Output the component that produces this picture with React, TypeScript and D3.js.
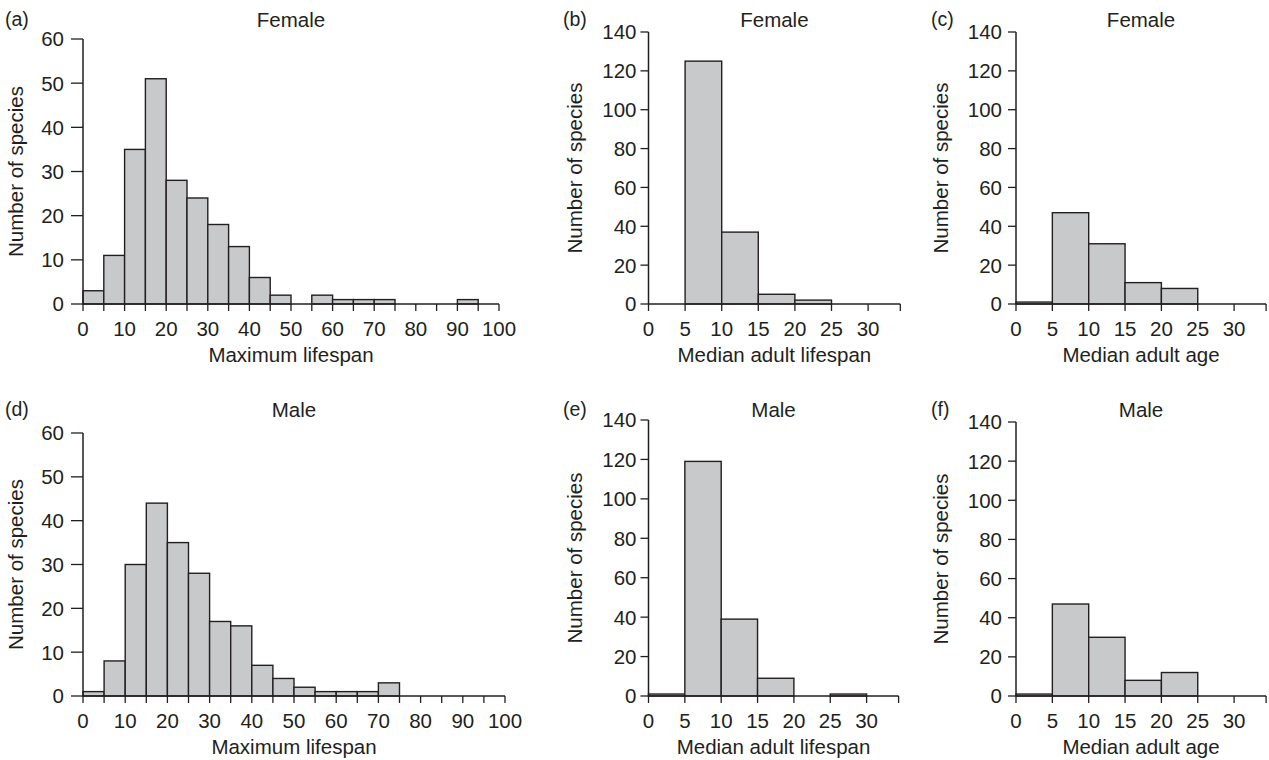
import React from "react";
import * as d3 from "d3";

// ---- data ----
const maxLifespanBinStarts = [0, 5, 10, 15, 20, 25, 30, 35, 40, 45, 50, 55, 60, 65, 70, 75, 80, 85, 90, 95];
const femaleMaxLifespan = [3, 11, 35, 51, 28, 24, 18, 13, 6, 2, 0, 2, 1, 1, 1, 0, 0, 0, 1, 0];
const maleMaxLifespan = [1, 8, 30, 44, 35, 28, 17, 16, 7, 4, 2, 1, 1, 1, 3, 0, 0, 0, 0, 0];

const medianBinStarts = [0, 5, 10, 15, 20, 25, 30];
const femaleMedianLifespan = [0, 125, 37, 5, 2, 0, 0];
const maleMedianLifespan = [1, 119, 39, 9, 0, 1, 0];
const femaleMedianAge = [1, 47, 31, 11, 8, 0, 0];
const maleMedianAge = [1, 47, 30, 8, 12, 0, 0];

const maxTickValues = [0, 10, 20, 30, 40, 50, 60, 70, 80, 90, 100];
const maxMinorTicks = [0, 5, 10, 15, 20, 25, 30, 35, 40, 45, 50, 55, 60, 65, 70, 75, 80, 85, 90, 95, 100];
const medianTickValues = [0, 5, 10, 15, 20, 25, 30];
const maxYTicks = [0, 10, 20, 30, 40, 50, 60];
const medianYTicks = [0, 20, 40, 60, 80, 100, 120, 140];

const INK = "#231f20";
const FILL = "#c8c9cb";
const FONT = "'Liberation Sans', Arial, Helvetica, sans-serif";
const FS = 20.5;

type PanelProps = {
  tag: string;
  title: string;
  xLabel: string;
  binStarts: number[];
  binWidth: number;
  counts: number[];
  xDomain: [number, number];
  xTickLabels: number[];
  xTicks: number[];
  yMax: number;
  yTicks: number[];
  left: number;
  right: number;
  top: number;
  bottom: number;
  yTickLen: number;
  yTickGap: number;
  tagX: number;
  yLabelX: number;
  titleY: number;
  tickLabelY: number;
  xLabelY: number;
};

function Panel(p: PanelProps) {
  const x = d3.scaleLinear().domain(p.xDomain).range([p.left, p.right]);
  const y = d3.scaleLinear().domain([0, p.yMax]).range([p.bottom, p.top]);
  const cx = (p.left + p.right) / 2;
  const cy = (p.top + p.bottom) / 2;
  return (
    <g fontFamily={FONT} fill={INK}>
      {p.counts.map((c, i) =>
        c > 0 ? (
          <rect
            key={i}
            x={x(p.binStarts[i])}
            y={y(c)}
            width={x(p.binStarts[i] + p.binWidth) - x(p.binStarts[i])}
            height={y(0) - y(c)}
            fill={FILL}
            stroke={INK}
            strokeWidth={1.4}
          />
        ) : null
      )}
      <line x1={p.left} x2={p.right} y1={p.bottom} y2={p.bottom} stroke={INK} strokeWidth={1.5} />
      {p.xTicks.map((t) => (
        <line key={"xt" + t} x1={x(t)} x2={x(t)} y1={p.bottom} y2={p.bottom + 7} stroke={INK} strokeWidth={1.3} />
      ))}
      {p.xTickLabels.map((t) => (
        <text key={"xl" + t} x={x(t)} y={p.tickLabelY} textAnchor="middle" fontSize={FS}>
          {t}
        </text>
      ))}
      <line x1={p.left} x2={p.left} y1={p.top} y2={p.bottom} stroke={INK} strokeWidth={1.5} />
      {p.yTicks.map((t) => (
        <g key={"yt" + t}>
          <line x1={p.left - p.yTickLen} x2={p.left} y1={y(t)} y2={y(t)} stroke={INK} strokeWidth={1.3} />
          <text x={p.left - p.yTickLen - p.yTickGap} y={y(t)} dy="0.36em" textAnchor="end" fontSize={FS}>
            {t}
          </text>
        </g>
      ))}
      <text
        transform={`translate(${p.yLabelX},${cy}) rotate(-90)`}
        textAnchor="middle"
        dy="0.36em"
        fontSize={FS}
      >
        Number of species
      </text>
      <text x={cx} y={p.xLabelY} textAnchor="middle" fontSize={FS}>
        {p.xLabel}
      </text>
      <text x={cx} y={p.titleY} textAnchor="middle" fontSize={FS}>
        {p.title}
      </text>
      <text x={p.tagX} y={p.titleY - 1} fontSize={19.5}>
        {p.tag}
      </text>
    </g>
  );
}

export default function App() {
  const medEnd = 34.4;
  const smallTicks = [...medianTickValues, medEnd];
  return (
    <svg
      width={1269}
      height={760}
      style={{ position: "absolute", left: 0, top: 0, background: "#fff" }}
    >
      <Panel
        tag="(a)"
        title="Female"
        xLabel="Maximum lifespan"
        binStarts={maxLifespanBinStarts}
        binWidth={5}
        counts={femaleMaxLifespan}
        xDomain={[0, 100]}
        xTickLabels={maxTickValues}
        xTicks={maxMinorTicks}
        yMax={60}
        yTicks={maxYTicks}
        left={83}
        right={499}
        top={39}
        bottom={304}
        yTickLen={12}
        yTickGap={7}
        tagX={5}
        yLabelX={16}
        titleY={27}
        tickLabelY={336}
        xLabelY={362}
      />
      <Panel
        tag="(b)"
        title="Female"
        xLabel="Median adult lifespan"
        binStarts={medianBinStarts}
        binWidth={5}
        counts={femaleMedianLifespan}
        xDomain={[0, medEnd]}
        xTickLabels={medianTickValues}
        xTicks={smallTicks}
        yMax={140}
        yTicks={medianYTicks}
        left={648.5}
        right={648.5 + 7.32 * medEnd}
        top={32}
        bottom={304}
        yTickLen={8}
        yTickGap={4}
        tagX={563}
        yLabelX={574.5}
        titleY={27}
        tickLabelY={336}
        xLabelY={362}
      />
      <Panel
        tag="(c)"
        title="Female"
        xLabel="Median adult age"
        binStarts={medianBinStarts}
        binWidth={5}
        counts={femaleMedianAge}
        xDomain={[0, medEnd]}
        xTickLabels={medianTickValues}
        xTicks={smallTicks}
        yMax={140}
        yTicks={medianYTicks}
        left={1016}
        right={1016 + 7.27 * medEnd}
        top={32}
        bottom={304}
        yTickLen={8}
        yTickGap={6}
        tagX={931}
        yLabelX={940.5}
        titleY={27}
        tickLabelY={336}
        xLabelY={362}
      />
      <Panel
        tag="(d)"
        title="Male"
        xLabel="Maximum lifespan"
        binStarts={maxLifespanBinStarts}
        binWidth={5}
        counts={maleMaxLifespan}
        xDomain={[0, 100]}
        xTickLabels={maxTickValues}
        xTicks={maxMinorTicks}
        yMax={60}
        yTicks={maxYTicks}
        left={83}
        right={505}
        top={433}
        bottom={696}
        yTickLen={12}
        yTickGap={7}
        tagX={5}
        yLabelX={16}
        titleY={417}
        tickLabelY={728}
        xLabelY={754}
      />
      <Panel
        tag="(e)"
        title="Male"
        xLabel="Median adult lifespan"
        binStarts={medianBinStarts}
        binWidth={5}
        counts={maleMedianLifespan}
        xDomain={[0, medEnd]}
        xTickLabels={medianTickValues}
        xTicks={smallTicks}
        yMax={140}
        yTicks={medianYTicks}
        left={648.5}
        right={648.5 + 7.27 * medEnd}
        top={420}
        bottom={696}
        yTickLen={8}
        yTickGap={4}
        tagX={563}
        yLabelX={574.5}
        titleY={417}
        tickLabelY={728}
        xLabelY={754}
      />
      <Panel
        tag="(f)"
        title="Male"
        xLabel="Median adult age"
        binStarts={medianBinStarts}
        binWidth={5}
        counts={maleMedianAge}
        xDomain={[0, medEnd]}
        xTickLabels={medianTickValues}
        xTicks={smallTicks}
        yMax={140}
        yTicks={medianYTicks}
        left={1016}
        right={1016 + 7.27 * medEnd}
        top={422}
        bottom={696}
        yTickLen={8}
        yTickGap={6}
        tagX={931}
        yLabelX={940.5}
        titleY={417}
        tickLabelY={728}
        xLabelY={754}
      />
    </svg>
  );
}
